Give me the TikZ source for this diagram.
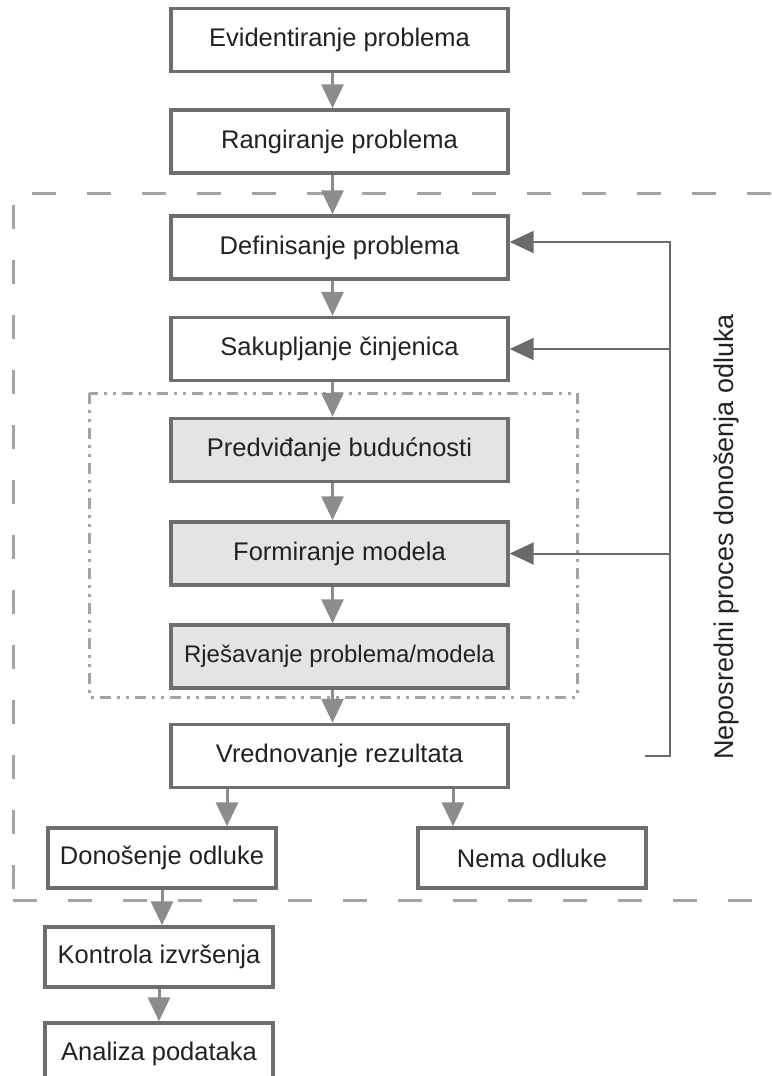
\documentclass[tikz,border=0pt]{standalone}
\usepackage{fontspec}
\setmainfont{Liberation Sans}
\usetikzlibrary{arrows.meta}
\definecolor{boxline}{HTML}{6E6E6E}
\definecolor{boxgray}{HTML}{E4E4E4}
\definecolor{flowgray}{HTML}{8C8C8C}
\definecolor{backgray}{HTML}{6A6A6A}
\definecolor{framegray}{HTML}{A4A4A4}
\definecolor{txt}{HTML}{222222}
\tikzstyle{stage}=[draw=boxline, line width=3.4pt, fill=white, text=txt, inner sep=0pt, minimum width=337pt, minimum height=63pt, font=\fontsize{25.5}{30}\selectfont]
\tikzstyle{stage gray}=[stage, fill=boxgray]
\tikzstyle{stage small}=[stage, minimum width=228pt, minimum height=60pt]
\tikzstyle{flow}=[->, draw=flowgray, line width=3pt]
\tikzstyle{feedback}=[->, draw=backgray, line width=2pt]
\tikzstyle{frame}=[draw=framegray, line width=3pt, dash pattern=on 24pt off 31pt]
\tikzstyle{model frame}=[draw=framegray, line width=3pt, dash pattern=on 11pt off 6pt on 3pt off 6pt on 3pt off 6pt]

\begin{document}
\begin{tikzpicture}[>={Triangle[length=24pt,width=22pt]}, x=1pt, y=-1pt]
    \useasboundingbox (0,0) rectangle (771,1076);

    % Frames
    \draw[frame] (771,193) -- (13,193) -- (13,890);
    \draw[frame] (13,900) -- (771,900);
    \draw[model frame] (89,393) rectangle (577,697);

    % Stages
    \draw (339.5,40) node[stage] (ev) {Evidentiranje problema};
    \draw (339.5,141.5) node[stage] (ra) {Rangiranje problema};
    \draw (339.5,247.5) node[stage] (de) {Definisanje problema};
    \draw (339.5,349) node[stage] (sa) {Sakupljanje činjenica};
    \draw (339.5,450) node[stage gray] (pr) {Predviđanje budućnosti};
    \draw (339.5,553.5) node[stage gray] (fo) {Formiranje modela};
    \draw (339.5,656.5) node[stage gray, font=\fontsize{24}{28}\selectfont] (rj) {Rješavanje problema/modela};
    \draw (339.5,756) node[stage] (vr) {Vrednovanje rezultata};
    \draw (162,858) node[stage small] (do) {Donošenje odluke};
    \draw (532,858) node[stage small] (ne) {Nema odluke};
    \draw (159,957) node[stage small] (ko) {Kontrola izvršenja};
    \draw (159,1054) node[stage small, minimum height=62pt] (an) {Analiza podataka};

    % Label
    \draw (726,537) node[rotate=90, text=txt, font=\fontsize{27}{32}\selectfont] (label) {Neposredni proces donošenja odluka};

    % Flow
    \draw[flow] ([xshift=-7pt]ev.south) -- ([xshift=-7pt]ra.north);
    \draw[flow] ([xshift=-7pt]ra.south) -- ([xshift=-7pt]de.north);
    \draw[flow] ([xshift=-7pt]de.south) -- ([xshift=-7pt]sa.north);
    \draw[flow] ([xshift=-7pt]sa.south) -- ([xshift=-7pt]pr.north);
    \draw[flow] ([xshift=-7pt]pr.south) -- ([xshift=-7pt]fo.north);
    \draw[flow] ([xshift=-7pt]fo.south) -- ([xshift=-7pt]rj.north);
    \draw[flow] ([xshift=-7pt]rj.south) -- ([xshift=-7pt]vr.north);
    \draw[flow] ([xshift=-112.5pt]vr.south) -- ([xshift=-112.5pt]vr.south |- do.north);
    \draw[flow] ([xshift=113.5pt]vr.south) -- ([xshift=113.5pt]vr.south |- ne.north);
    \draw[flow] (do.south) -- (do.south |- ko.north);
    \draw[flow] (ko.south) -- (an.north);

    % Feedback
    \coordinate (fbtop) at (670,242);
    \coordinate (fbend) at (645,756);
    \draw[feedback] (fbend) -- (fbend -| fbtop) -- (fbtop) -- (fbtop -| de.east);
    \draw[feedback] (sa.east -| fbtop) -- (sa.east);
    \draw[feedback] (fo.east -| fbtop) -- (fo.east);

\end{tikzpicture}
\end{document}
